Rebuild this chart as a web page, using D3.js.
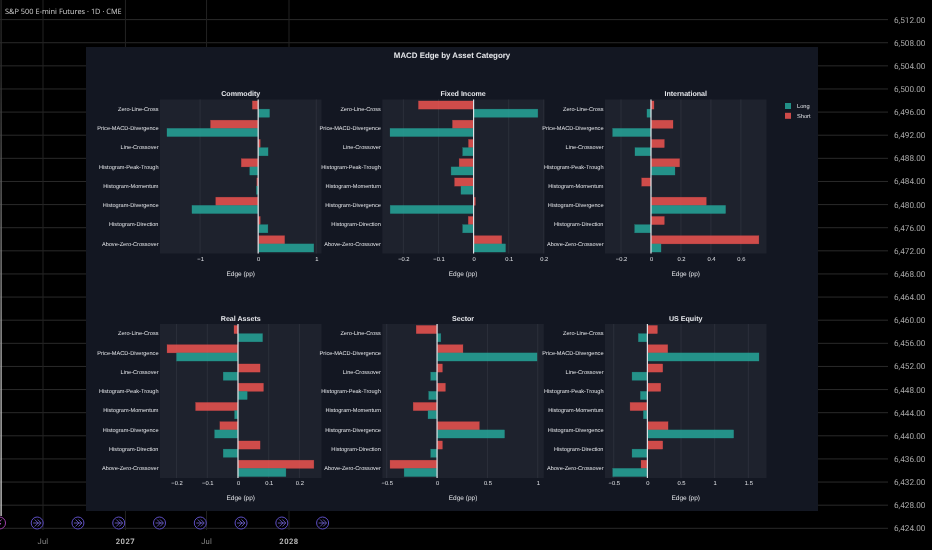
<!DOCTYPE html>
<html>
<head>
<meta charset="utf-8">
<script src="https://cdn.jsdelivr.net/npm/d3@7"></script>
<style>
html, body { margin: 0; padding: 0; background: #000; overflow: hidden; }
svg { filter: blur(0.3px); }
text { font-family: "Liberation Sans", Arial, sans-serif; text-rendering: geometricPrecision; }
.axis path { display: none; }
.axis line { stroke: none; }
</style>
</head>
<body>
<script>
// chart data
var categories = ['Zero-Line-Cross', 'Price-MACD-Divergence', 'Line-Crossover', 'Histogram-Peak-Trough',
	'Histogram-Momentum', 'Histogram-Divergence', 'Histogram-Direction', 'Above-Zero-Crossover'];
var panelNames = ['Commodity', 'Fixed Income', 'International', 'Real Assets', 'Sector', 'US Equity'];
var sides = ['Short', 'Long'];

var commodityShort = [-0.10, -0.82, 0.035, -0.29, -0.023, -0.73, 0.035, 0.455];
var commodityLong = [0.196, -1.57, 0.17, -0.145, -0.03, -1.14, 0.167, 0.957];
var fixedIncomeShort = [-0.157, -0.06, -0.0144, -0.041, -0.054, 0.005, -0.015, 0.08];
var fixedIncomeLong = [0.183, -0.238, -0.031, -0.064, -0.036, -0.2375, -0.031, 0.091];
var internationalShort = [0.02, 0.147, 0.089, 0.191, -0.062, 0.369, 0.089, 0.72];
var internationalLong = [-0.027, -0.256, -0.107, 0.16, 0.001, 0.498, -0.109, 0.067];
var realAssetsShort = [-0.013, -0.231, 0.072, 0.083, -0.138, -0.059, 0.072, 0.247];
var realAssetsLong = [0.08, -0.2, -0.048, 0.03, -0.011, -0.076, -0.048, 0.156];
var sectorShort = [-0.207, 0.257, 0.053, 0.083, -0.237, 0.42, 0.053, -0.467];
var sectorLong = [0.037, 0.993, -0.063, -0.083, -0.09, 0.67, -0.063, -0.327];
var usEquityShort = [0.149, 0.302, 0.228, 0.198, -0.257, 0.307, 0.228, -0.094];
var usEquityLong = [-0.134, 1.658, -0.228, -0.104, -0.059, 1.282, -0.228, -0.515];

var shortValues = [commodityShort, fixedIncomeShort, internationalShort, realAssetsShort, sectorShort, usEquityShort];
var longValues = [commodityLong, fixedIncomeLong, internationalLong, realAssetsLong, sectorLong, usEquityLong];

var xDomains = [[-1.69, 1.09], [-0.26, 0.2], [-0.307, 0.771], [-0.254, 0.272], [-0.544, 1.06], [-0.63, 1.77]];
var xTicks = [[-1, 0, 1], [-0.2, -0.1, 0, 0.1, 0.2], [-0.2, 0, 0.2, 0.4, 0.6], [-0.2, -0.1, 0, 0.1, 0.2], [-0.5, 0, 0.5, 1], [-0.5, 0, 0.5, 1, 1.5]];

// the trading chart behind
var priceTicks = d3.range(6424, 6513, 4);
var dateTicks = ['2026-07-01', '2027-01-01', '2027-07-01', '2028-01-01'];
var dateLabels = ['Jul', '2027', 'Jul', '2028'];
var eventDates = ['2026-06-18', '2026-09-17', '2026-12-17', '2027-03-18', '2027-06-17', '2027-09-16', '2027-12-16', '2028-03-16'];
var firstEventDate = '2026-03-26';

var width = 932, height = 550;
var colLong = '#26a69a', colShort = '#ef5350';

var svg = d3.select('body').append('svg').attr('width', width).attr('height', height);
svg.append('rect').attr('width', width).attr('height', height).attr('fill', '#000');

// the session line on the left fades out towards the top
var fade = svg.append('defs').append('linearGradient').attr('id', 'fade')
	.attr('gradientUnits', 'userSpaceOnUse').attr('x1', 0).attr('x2', 0).attr('y1', 0).attr('y2', 516);
fade.append('stop').attr('offset', '0%').attr('stop-color', '#222');
fade.append('stop').attr('offset', '15%').attr('stop-color', '#2e2e2e');
fade.append('stop').attr('offset', '70%').attr('stop-color', '#a8a8a8');
fade.append('stop').attr('offset', '100%').attr('stop-color', '#c4c4c4');

// background: price axis, time axis
var priceY = d3.scaleLinear().domain([6424, 6512]).range([528.3, 19.6]);
var parse = d3.utcParse('%Y-%m-%d');
var timeX = d3.scaleUtc().domain([parse('2026-07-01'), parse('2028-01-01')]).range([43, 289]);

var back = svg.append('g');
back.selectAll('.hgrid').data(priceTicks).enter().append('line')
	.attr('x1', 0).attr('x2', 888)
	.attr('y1', function(d){ return priceY(d); }).attr('y2', function(d){ return priceY(d); })
	.attr('stroke', '#2a2a2a').attr('stroke-width', 1);
back.selectAll('.vgrid').data(dateTicks).enter().append('line')
	.attr('x1', function(d){ return timeX(parse(d)); }).attr('x2', function(d){ return timeX(parse(d)); })
	.attr('y1', 0).attr('y2', 530)
	.attr('stroke', '#222').attr('stroke-width', 1);
back.append('rect').attr('x', 0.4).attr('y', 0).attr('width', 1.4).attr('height', 516)
	.attr('fill', 'url(#fade)');
back.selectAll('.price').data(priceTicks).enter().append('text')
	.attr('x', 894).attr('y', function(d){ return priceY(d) + 3; })
	.attr('fill', '#a8a8a8').style('font-family', 'Roboto').style('font-size', '8.2px')
	.text(function(d){ return d3.format(',.2f')(d); });
back.selectAll('.date').data(dateTicks).enter().append('text')
	.attr('x', function(d){ return timeX(parse(d)); }).attr('y', 544)
	.attr('text-anchor', 'middle').style('font-family', 'Roboto').style('font-size', '7.6px')
	.style('font-weight', function(d, i){ return i % 2 ? 700 : 400; })
	.style('letter-spacing', function(d, i){ return i % 2 ? '0.5px' : '0.2px'; })
	.attr('fill', function(d, i){ return i % 2 ? '#b8b8b8' : '#8a8a8a'; })
	.text(function(d, i){ return dateLabels[i]; });
back.append('text').attr('x', 5).attr('y', 13.5)
	.attr('fill', '#d4d4d4').style('font-family', 'Open Sans').style('font-size', '7.4px')
	.text('S&P 500 E-mini Futures · 1D · CME');

// event markers along the bottom
var icons = back.selectAll('.ev').data(eventDates).enter().append('g')
	.attr('transform', function(d){ return 'translate(' + timeX(parse(d)) + ',523)'; });
icons.append('circle').attr('r', 6).attr('fill', '#000').attr('stroke', '#5e4fc4').attr('stroke-width', 1);
icons.append('path').attr('d', 'M-2.5,-3.5 L1,0 L-2.5,3.5 M0.5,-3.5 L4,0 L0.5,3.5 M-4,0 L3.5,0')
	.attr('fill', 'none').attr('stroke', '#7464d8').attr('stroke-width', 0.8);

var firstIcon = back.append('g').attr('transform', 'translate(' + timeX(parse(firstEventDate)) + ',523)');
firstIcon.append('circle').attr('r', 6).attr('fill', '#000').attr('stroke', '#9c3fa8').attr('stroke-width', 1);
firstIcon.append('path').attr('d', 'M2,-3.5 L-1.5,0.5 L1.5,0.5 L-2,3.5')
	.attr('fill', 'none').attr('stroke', '#b050c0').attr('stroke-width', 0.9);

// overlay panel
svg.append('rect').attr('x', 86).attr('y', 47).attr('width', 732).attr('height', 464).attr('fill', '#131722');
svg.append('text').attr('x', 452).attr('y', 58).attr('text-anchor', 'middle')
	.attr('fill', '#e4e6ea').style('font-size', '7.9px').style('font-weight', 700)
	.text('MACD Edge by Asset Category');

var colX = [160, 382.3, 605], rowY = [99.5, 324], plotW = 161.5, plotH = 154;

var y = d3.scaleBand().domain(categories).range([0, plotH]).paddingInner(0.15).paddingOuter(0.075);
var ySide = d3.scaleBand().domain(sides).range([0, y.bandwidth()]);
var color = d3.scaleOrdinal().domain(sides).range([colShort, colLong]);

function tickText(d){
	return d === 0 ? '0' : String(d).replace('-', '\u2212');
}

panelNames.forEach(function(name, p){
	var g = svg.append('g').attr('transform', 'translate(' + colX[p % 3] + ',' + rowY[Math.floor(p / 3)] + ')');
	var x = d3.scaleLinear().domain(xDomains[p]).range([0, plotW]);

	g.append('rect').attr('width', plotW).attr('height', plotH).attr('fill', '#1e222d');

	g.selectAll('.grid').data(xTicks[p]).enter().append('line')
		.attr('x1', function(d){ return x(d); }).attr('x2', function(d){ return x(d); })
		.attr('y1', 0).attr('y2', plotH)
		.attr('stroke', '#2c303b').attr('stroke-width', 1);

	var rows = categories.map(function(c, i){
		return [{c: c, s: 'Short', v: shortValues[p][i]}, {c: c, s: 'Long', v: longValues[p][i]}];
	});
	g.selectAll('.bar').data(d3.merge(rows)).enter().append('rect')
		.attr('x', function(d){ return Math.min(x(0), x(d.v)); })
		.attr('y', function(d){ return y(d.c) + ySide(d.s); })
		.attr('width', function(d){ return Math.abs(x(d.v) - x(0)); })
		.attr('height', ySide.bandwidth())
		.attr('fill', function(d){ return color(d.s); })
		.attr('fill-opacity', 0.85)
		.attr('stroke', function(d){ return color(d.s); })
		.attr('stroke-opacity', 0.4).attr('stroke-width', 0.5);

	g.append('line').attr('x1', x(0)).attr('x2', x(0)).attr('y1', 0).attr('y2', plotH)
		.attr('stroke', '#e0e2e6').attr('stroke-width', 1.2);

	var xAxis = g.append('g').attr('class', 'axis').attr('transform', 'translate(0,' + plotH + ')')
		.call(d3.axisBottom(x).tickValues(xTicks[p]).tickSize(0).tickPadding(3).tickFormat(tickText));
	xAxis.selectAll('text').attr('fill', '#e0e2e6').style('font-size', '5.8px');

	var yAxis = g.append('g').attr('class', 'axis')
		.call(d3.axisLeft(y).tickSize(0).tickPadding(1.5));
	yAxis.selectAll('text').attr('fill', '#e0e2e6').style('font-size', '5.6px');

	g.append('text').attr('x', plotW / 2).attr('y', -3.5).attr('text-anchor', 'middle')
		.attr('fill', '#e4e6ea').style('font-size', '7.1px').style('font-weight', 700).text(name);
	g.append('text').attr('x', plotW / 2).attr('y', plotH + 22).attr('text-anchor', 'middle')
		.attr('fill', '#e0e2e6').style('font-size', '6.5px').text('Edge (pp)');
});

// legend
var legend = svg.selectAll('.leg').data(['Long', 'Short']).enter().append('g')
	.attr('transform', function(d, i){ return 'translate(785,' + (103 + i * 9.8) + ')'; });
legend.append('rect').attr('width', 6).attr('height', 6)
	.attr('fill', function(d){ return color(d); }).attr('fill-opacity', 0.85);
legend.append('text').attr('x', 12).attr('y', 5).attr('fill', '#e0e2e6').style('font-size', '5.7px')
	.text(function(d){ return d; });
</script>
</body>
</html>
